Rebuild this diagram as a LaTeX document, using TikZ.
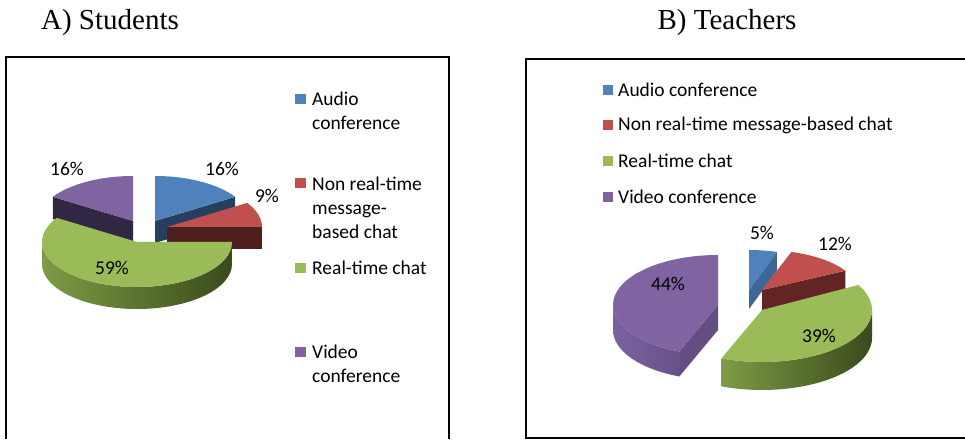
\documentclass[tikz,border=0pt]{standalone}
\usepackage{fontspec}
\setmainfont{Liberation Serif}
\newfontfamily\chartfont{Carlito}
\usepackage{tikz}

\definecolor{audioc}{HTML}{4F81BD}
\definecolor{nonrtc}{HTML}{C0504D}
\definecolor{realc}{HTML}{9BBB59}
\definecolor{videoc}{HTML}{8064A2}
\definecolor{audiow}{HTML}{263F5F}
\definecolor{nonrtw}{HTML}{4F1F1D}
\definecolor{videow}{HTML}{312742}
\definecolor{audiowb}{HTML}{3D6797}
\definecolor{nonrtwb}{HTML}{632523}
\definecolor{videowb}{HTML}{634E82}
\definecolor{realsa}{HTML}{7E9C44}
\definecolor{realsb}{HTML}{3A4A1C}
\definecolor{videosa}{HTML}{7A62A0}
\definecolor{videosb}{HTML}{5C487B}

% slice pieces: #1 vertex, #2/#3 angles, last arg colour
\newcommand{\slicetop}[4]{\fill[#4] (#1) -- ++(#2:{\prx} and {\pry}) arc[start angle=#2,end angle=#3,x radius=\prx,y radius=\pry] -- cycle;}
\newcommand{\slicewall}[3]{\fill[#3] (#1) -- ++(#2:{\prx} and {\pry}) -- ++(0,-\pth) -- ++(#2+180:{\prx} and {\pry}) -- cycle;}
\newcommand{\sliceside}[5]{\shade[left color=#4,right color=#5] (#1) ++(#2:{\prx} and {\pry}) arc[start angle=#2,end angle=#3,x radius=\prx,y radius=\pry] -- ++(0,-\pth) arc[start angle=#3,end angle=#2,x radius=\prx,y radius=\pry] -- cycle;}

\begin{document}
\begin{tikzpicture}[x=1pt,y=1pt,
  title/.style={font=\fontsize{29}{32}\selectfont},
  lab/.style={font=\chartfont\fontsize{19.5}{24}\selectfont,inner sep=0pt},
  legtext/.style={lab,anchor=west,align=left},
  legbox/.style={minimum size=10.5pt,inner sep=0pt}]
\useasboundingbox (0,0) rectangle (965,439);

\node[title,anchor=base](ta) at (110,409) {A) Students};
\node[title,anchor=base](tb) at (727,409) {B) Teachers};

\draw[line width=1.6pt] (6,0) -- (6,382) -- (449,382) -- (449,0);
\draw[line width=1.6pt] (966,380) -- (526,380) -- (526,1) -- (966,1);

% students
\def\prx{95}\def\pry{45}\def\pth{22}
\slicewall{155,218}{32.4}{audiow}
\slicetop{155,218}{32.4}{90}{audioc}
\slicewall{133,218}{147.6}{videow}
\slicetop{133,218}{90}{147.6}{videoc}
\slicewall{167,212}{0}{nonrtw}
\slicetop{167,212}{0}{32.4}{nonrtc}
\sliceside{137,197}{180}{360}{realsa}{realsb}
\slicetop{137,197}{147.6}{360}{realc}

\node[lab](sv) at (67,270) {16\%};
\node[lab](sa) at (222,270) {16\%};
\node[lab](sn) at (267,243) {9\%};
\node[lab](sr) at (112,171) {59\%};

\node[legbox,fill=audioc](ka) at (300.5,340) {};
\node[legtext](la) at (312,328.5) {Audio\\conference};
\node[legbox,fill=nonrtc](kn) at (300.5,256) {};
\node[legtext](ln) at (312,231.5) {Non real-time\\message-\\based chat};
\node[legbox,fill=realc](kr) at (300.5,171) {};
\node[legtext](lr) at (312,171) {Real-time chat};
\node[legbox,fill=videoc](kv) at (300.5,87) {};
\node[legtext](lv) at (312,75.5) {Video\\conference};

% teachers
\def\prx{90}\def\pry{40}\def\pth{19}
\slicewall{749,149}{72}{audiowb}
\slicetop{749,149}{72}{90}{audioc}
\def\prx{95}\def\pry{40}\def\pth{21}
\slicewall{762,149}{28.8}{nonrtwb}
\slicetop{762,149}{28.8}{72}{nonrtc}
\def\prx{105}\def\pry{50}\def\pth{25}
\slicewall{718,134}{248.4}{videowb}
\sliceside{718,134}{180}{248.4}{videosa}{videosb}
\slicetop{718,134}{90}{248.4}{videoc}
\def\prx{110}\def\pry{52}\def\pth{28}
\sliceside{762,129}{248.4}{360}{realsa}{realsb}
\slicetop{762,129}{248.4}{388.8}{realc}

\node[lab](ta5) at (762,206) {5\%};
\node[lab](tn) at (835,195) {12\%};
\node[lab](tv) at (668,155) {44\%};
\node[lab](tr) at (819,103) {39\%};

\node[legbox,fill=audioc](qa) at (608,349) {};
\node[legtext](ma) at (618,349) {Audio conference};
\node[legbox,fill=nonrtc](qn) at (608,314) {};
\node[legtext](mn) at (618,314) {Non real-time message-based chat};
\node[legbox,fill=realc](qr) at (608,278) {};
\node[legtext](mr) at (618,278) {Real-time chat};
\node[legbox,fill=videoc](qv) at (608,242) {};
\node[legtext](mv) at (618,242) {Video conference};
\end{tikzpicture}
\end{document}
